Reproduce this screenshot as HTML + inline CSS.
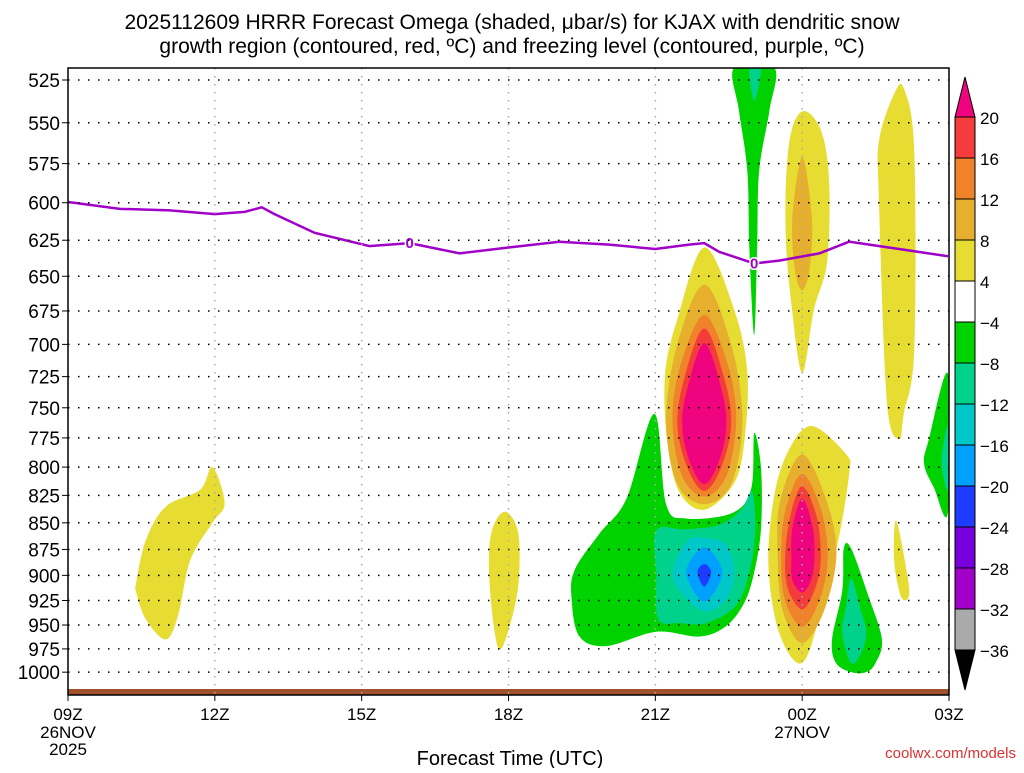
<!DOCTYPE html>
<html><head><meta charset="utf-8"><style>
body{margin:0;background:#fff;width:1024px;height:768px;overflow:hidden;font-family:"Liberation Sans",sans-serif}
svg text{font-family:"Liberation Sans",sans-serif}
</style></head><body>
<svg id="c" width="1024" height="768">
<text x="512" y="29" text-anchor="middle" font-size="21" fill="#000">2025112609 HRRR Forecast Omega (shaded, μbar/s) for KJAX with dendritic snow</text>
<text x="512" y="53" text-anchor="middle" font-size="21" fill="#000">growth region (contoured, red, ºC) and freezing level (contoured, purple, ºC)</text>
<g id="shapes"></g><g id="grid"></g><g id="axes"></g><g id="cbar"></g>
<text x="510" y="765" text-anchor="middle" font-size="20">Forecast Time (UTC)</text>
<text x="1016" y="758" text-anchor="end" font-size="15" fill="#e03030">coolwx.com/models</text>
</svg>
<script>
const pressureTicks=[525,550,575,600,625,650,675,700,725,750,775,800,825,850,875,900,925,950,975,1000];
const timeTicks=["09Z","12Z","15Z","18Z","21Z","00Z","03Z"];
const cbLevels=["20","16","12","8","4","−4","−8","−12","−16","−20","−24","−28","−32","−36"];
const cbColors=["#f0037f","#f53c3c","#f0822a","#e6b02e","#e6dc32","#ffffff","#00d200","#00d28c","#00c8c8","#00a0ff","#1e3cff","#7800dc","#a000c8","#aaaaaa","#000000"];
// freezing level: hours since 09Z, pressure
const fzHours=[0,1.06,2.08,3,3.61,3.96,4.22,5.04,6.16,6.98,8,9,10.04,11.06,12,12.69,13,13.31,14.02,14.53,15.35,15.96,16.98,17.98];
const fzPres=[599.5,604,605,607.5,606,603,607.5,620,629,627,634,630,626,628,631,628,627,633,641,639,634,626,631,636];
// omega contour regions: [colorIndex, [[hour,pressure],...]]
const regions=[
 [6,[[10.35,895],[10.86,860],[11.41,828],[11.98,755],[12.22,833],[12.63,846],[13.57,841],[13.96,819],[14.02,771],[14.16,801],[14.16,855],[14.02,897],[13.82,927],[13.45,951],[12.9,962],[12.02,957],[11.0,972],[10.45,962],[10.29,924]]],
 [7,[[12.02,857],[12.6,856],[13.3,852],[13.75,838],[13.98,822],[14.04,858],[13.92,897],[13.65,930],[13.04,948],[12.5,948],[12.06,944],[12.02,900]]],
 [8,[[12.35,897],[12.63,868],[13.0,864],[13.45,871],[13.61,897],[13.45,924],[13.0,936],[12.55,918]]],
 [9,[[12.63,897],[13.0,873],[13.37,897],[13.0,926]]],
 [10,[[12.86,897],[13.0,889],[13.14,897],[13.0,911]]],
 [6,[[13.61,518],[14.43,518],[14.33,543],[14.12,580],[14.08,630],[14.02,693],[13.92,630],[13.88,580],[13.71,543]]],
 [7,[[13.92,518],[14.16,518],[14.02,537]]],
 [6,[[15.85,874],[16.0,874],[16.35,920],[16.63,965],[16.5,990],[16.31,1000],[16.0,1000],[15.69,990],[15.61,965],[15.82,915]]],
 [7,[[16.0,903],[16.2,935],[16.31,958],[16.2,980],[16.0,990],[15.82,958],[15.9,930]]],
 [6,[[17.98,723],[17.98,840],[17.69,818],[17.49,797],[17.59,776]]],
 [7,[[17.98,765],[17.98,820],[17.85,795]]],
 [4,[[1.4,905],[1.6,865],[2.0,835],[2.7,820],[2.95,800],[3.2,832],[2.95,850],[2.5,885],[2.25,940],[2.0,965],[1.6,945],[1.4,918]]],
 [4,[[8.6,880],[8.7,852],[8.95,840],[9.2,860],[9.2,910],[9.0,955],[8.8,975],[8.65,930]]],
 [4,[[13.0,630],[13.61,674],[13.88,722],[13.82,777],[13.61,814],[13.0,838],[12.49,822],[12.24,777],[12.2,723],[12.45,681]]],
 [3,[[13.0,656],[13.55,700],[13.78,760],[13.55,815],[13.0,833],[12.45,815],[12.22,760],[12.45,700]]],
 [2,[[13.0,678],[13.5,718],[13.65,762],[13.45,808],[13.0,826],[12.55,808],[12.35,762],[12.5,718]]],
 [1,[[13.0,688],[13.4,725],[13.55,763],[13.35,800],[13.0,821],[12.65,800],[12.45,763],[12.6,725]]],
 [0,[[13.0,699],[13.35,735],[13.45,765],[13.3,795],[13.0,815],[12.7,795],[12.55,765],[12.65,735]]],
 [4,[[14.73,785],[15.2,765],[15.9,789],[15.96,805],[15.76,861],[15.41,931],[15.0,990],[14.53,958],[14.31,890],[14.43,825]]],
 [3,[[15.0,789],[15.5,830],[15.7,880],[15.45,935],[15.0,969],[14.6,935],[14.5,880],[14.55,830]]],
 [2,[[15.0,806],[15.4,840],[15.52,885],[15.35,925],[15.0,952],[14.65,925],[14.57,885],[14.65,840]]],
 [1,[[15.0,817],[15.3,845],[15.38,885],[15.25,915],[15.0,934],[14.72,915],[14.65,885],[14.75,845]]],
 [0,[[15.0,828],[15.22,855],[15.25,885],[15.18,905],[15.0,917],[14.8,905],[14.78,885],[14.8,855]]],
 [4,[[15.04,543],[15.39,555],[15.55,586],[15.51,640],[15.24,674],[15.0,722],[14.78,670],[14.67,626],[14.67,586],[14.78,555]]],
 [3,[[15.0,571],[15.2,610],[15.15,645],[15.0,660],[14.85,645],[14.8,610]]],
 [4,[[16.88,533],[17.08,530],[17.29,567],[17.29,704],[17.08,754],[16.98,776],[16.73,745],[16.57,599],[16.57,561]]],
 [4,[[16.92,848],[17.14,897],[17.18,921],[17.02,921],[16.88,886]]]
];
const L=68,R=949,T=68,B=695;
const xs=h=>L+h*(R-L)/18;
const ys=p=>80+919*Math.log(p/525);
const NS="http://www.w3.org/2000/svg";
function mk(t,a,parent){const e=document.createElementNS(NS,t);for(const k in a)e.setAttribute(k,a[k]);parent.appendChild(e);return e;}
function smooth(pts){const n=pts.length;let d=`M${pts[0][0]},${pts[0][1]}`;
 for(let i=0;i<n;i++){const p0=pts[(i-1+n)%n],p1=pts[i],p2=pts[(i+1)%n],p3=pts[(i+2)%n];
 const c1=[p1[0]+(p2[0]-p0[0])/6,p1[1]+(p2[1]-p0[1])/6],c2=[p2[0]-(p3[0]-p1[0])/6,p2[1]-(p3[1]-p1[1])/6];
 d+=`C${c1[0]},${c1[1]} ${c2[0]},${c2[1]} ${p2[0]},${p2[1]}`;}return d+"Z";}
const sg=document.getElementById('shapes');
const cp=mk('clipPath',{id:'pc'},sg);
mk('rect',{x:L,y:T,width:R-L,height:B-T},cp);
const sgc=mk('g',{'clip-path':'url(#pc)'},sg);
regions.forEach(r=>{const pts=r[1].map(q=>[xs(q[0]),ys(q[1])]);
 const e=mk('path',{d:smooth(pts),fill:cbColors[r[0]]},sgc);
 
 });
// ground strip
const gnd=mk('rect',{x:L,y:689,width:R-L,height:6,fill:'#a0522d'},sgc);


// freezing line
const fz=mk('polyline',{points:fzHours.map((h,i)=>xs(h)+','+ys(fzPres[i])).join(' '),fill:'none',stroke:'#a000c8','stroke-width':2.5},sgc);


[[6.98,627],[14.02,641]].forEach(q=>{const t=mk('text',{x:xs(q[0]),y:ys(q[1])+5,'text-anchor':'middle','font-size':15,'font-weight':'bold',fill:'#a000c8',stroke:'#fff','stroke-width':3,'paint-order':'stroke'},sgc);t.textContent='0';
 
 });
// grid & axes
const gg=document.getElementById('grid'),ax=document.getElementById('axes');
pressureTicks.forEach(p=>{const y=ys(p);
 const l=mk('line',{x1:L,x2:R,y1:y,y2:y,stroke:'#000','stroke-width':1.5,'stroke-dasharray':'1.5 8.5'},gg);
 
 
 mk('line',{x1:L-6,x2:L,y1:y,y2:y,stroke:'#000'},ax);
 const t=mk('text',{x:60,y:y+7,'text-anchor':'end','font-size':19},ax);t.textContent=p;
 
 });
timeTicks.forEach((s,i)=>{const x=xs(i*3);
 if(i>0&&i<timeTicks.length-1){const l=mk('line',{x1:x,x2:x,y1:T,y2:B,stroke:'#aaa','stroke-width':1.5,'stroke-dasharray':'1.5 6.5'},gg);
 
 }
 mk('line',{x1:x,x2:x,y1:B,y2:B+6,stroke:'#000'},ax);
 const t=mk('text',{x:x,y:720,'text-anchor':'middle','font-size':17},ax);t.textContent=s;
 
 });
[["26NOV",xs(0),738],["2025",xs(0),755],["27NOV",xs(15),738]].forEach(a=>{const t=mk('text',{x:a[1],y:a[2],'text-anchor':'middle','font-size':17},ax);t.textContent=a[0];
 
 });
const fr=mk('rect',{x:L,y:T,width:R-L,height:B-T,fill:'none',stroke:'#000','stroke-width':1.5},ax);


// colorbar
const cb=document.getElementById('cbar');const cx=955,cw=20,ct=117,ch=41;
const tri1=mk('polygon',{points:`${cx},${ct} ${cx+cw},${ct} ${cx+cw/2},${ct-40}`,fill:cbColors[0],stroke:'#000'},cb);


for(let i=1;i<cbColors.length-1;i++){const r=mk('rect',{x:cx,y:ct+(i-1)*ch,width:cw,height:ch,fill:cbColors[i],stroke:'#000'},cb);
 
 }
const yb=ct+(cbColors.length-2)*ch;
const tri2=mk('polygon',{points:`${cx},${yb} ${cx+cw},${yb} ${cx+cw/2},${yb+40}`,fill:'#000',stroke:'#000'},cb);


cbLevels.forEach((s,i)=>{const t=mk('text',{x:980,y:ct+i*ch+7,'font-size':17},cb);t.textContent=s;
 
 });
</script>
</body></html>
